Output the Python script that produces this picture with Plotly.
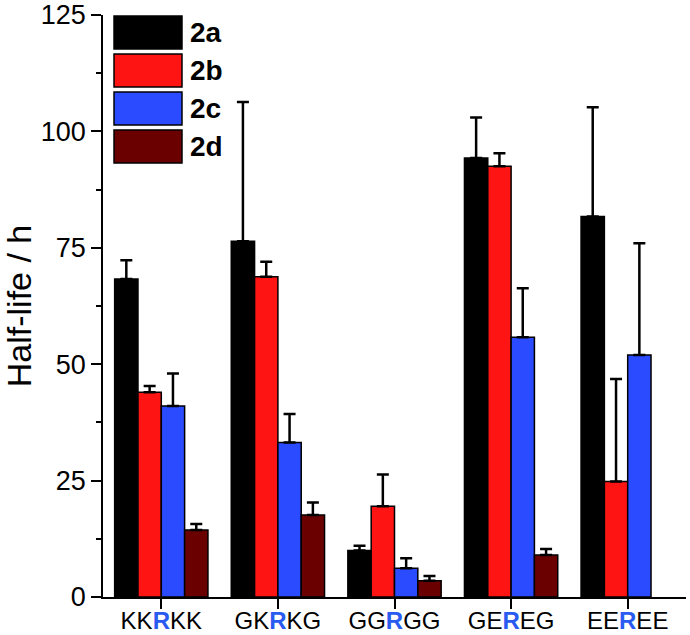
import plotly.graph_objects as go

categories = ["KKRKK", "GKRKG", "GGRGG", "GEREG", "EEREE"]
tick_labels = [
    "KK<b><span style='color:#2a5bf0'>R</span></b>KK",
    "GK<b><span style='color:#2a5bf0'>R</span></b>KG",
    "GG<b><span style='color:#2a5bf0'>R</span></b>GG",
    "GE<b><span style='color:#2a5bf0'>R</span></b>EG",
    "EE<b><span style='color:#2a5bf0'>R</span></b>EE",
]
series_names = ["2a", "2b", "2c", "2d"]
val_2a = [68.3, 76.4, 10.0, 94.3, 81.7]
val_2b = [44.0, 68.8, 19.5, 92.5, 24.8]
val_2c = [41.0, 33.2, 6.2, 55.8, 52.0]
val_2d = [14.4, 17.6, 3.5, 9.0, None]
err_2a = [4.0, 29.9, 1.0, 8.7, 23.5]
err_2b = [1.3, 3.2, 6.8, 2.8, 22.0]
err_2c = [7.0, 6.1, 2.1, 10.5, 24.0]
err_2d = [1.3, 2.7, 1.0, 1.3, None]
colors = ["#000000", "#ff1414", "#2a4bff", "#6a0000"]

values = [val_2a, val_2b, val_2c, val_2d]
errors = [err_2a, err_2b, err_2c, err_2d]

FONT = "Liberation Sans, Arial"

fig = go.Figure()
for name, v, e, c in zip(series_names, values, errors, colors):
    fig.add_trace(go.Bar(
        x=categories, y=v, name=name,
        marker=dict(color=c, line=dict(color="#000000", width=1.5)),
        error_y=dict(type="data", symmetric=False, array=e,
                     arrayminus=[0] * len(e), color="#000000",
                     thickness=2.5, width=6),
        showlegend=False,
    ))

# manual legend with large swatches
row_h = 0.0653
for i, (name, c) in enumerate(zip(series_names, colors)):
    y1 = 0.9983 - i * row_h
    y0 = y1 - 0.0567
    fig.add_shape(type="rect", xref="paper", yref="paper",
                  x0=0.0189, x1=0.1355, y0=y0, y1=y1,
                  fillcolor=c, line=dict(color="#000000", width=1.5))
    fig.add_annotation(xref="paper", yref="paper", x=0.146, y=(y0 + y1) / 2,
                       text=f"<b>{name}</b>", showarrow=False,
                       xanchor="left", yanchor="middle",
                       font=dict(family=FONT, size=28, color="#000000"))

fig.update_layout(
    width=690, height=635,
    margin=dict(l=103, r=4, t=15, b=38),
    paper_bgcolor="white", plot_bgcolor="white",
    barmode="group", bargap=0.2, bargroupgap=0,
    font=dict(family=FONT, color="#000000"),
    xaxis=dict(
        type="category", range=[-0.5, 4.5], automargin=False,
        tickmode="array", tickvals=categories, ticktext=tick_labels,
        ticks="outside", ticklen=10, tickwidth=1.5, tickcolor="#000000",
        ticklabelstandoff=-9,
        showline=True, linecolor="#000000", linewidth=1.5,
        showgrid=False, zeroline=False,
        tickfont=dict(size=24, family=FONT, color="#000000"),
    ),
    yaxis=dict(
        range=[0, 125], tickvals=[0, 25, 50, 75, 100, 125], automargin=False,
        ticks="outside", ticklen=10, tickwidth=1.5, tickcolor="#000000",
        showline=True, linecolor="#000000", linewidth=1.5,
        showgrid=False, zeroline=False,
        tickfont=dict(size=27, family=FONT, color="#000000"),
        minor=dict(tickvals=[12.5, 37.5, 62.5, 87.5, 112.5], ticks="outside",
                   ticklen=5, tickwidth=1.5, tickcolor="#000000"),
        title=dict(text="Half-life / h", standoff=12,
                   font=dict(size=34, family=FONT, color="#000000")),
    ),
)

fig.write_html("out.html", config={"displayModeBar": False},
               post_script="document.body.style.margin='0';")
